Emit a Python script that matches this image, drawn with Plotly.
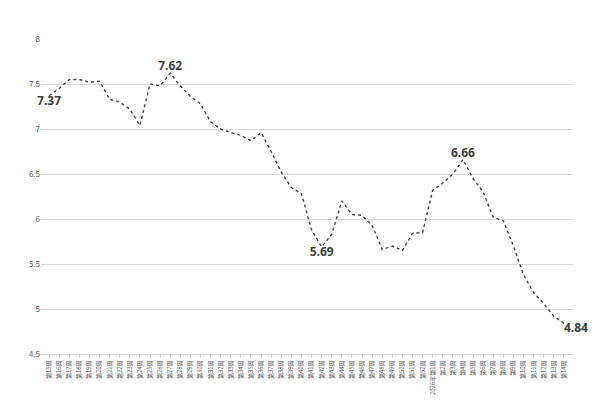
import plotly.graph_objects as go

weeks = [f"第{i}周" for i in range(15, 53)] + ["2026年第1周"] + [f"第{i}周" for i in range(2, 15)]
prices = [7.37, 7.45, 7.55, 7.55, 7.52, 7.53, 7.33, 7.30, 7.22, 7.04,
          7.50, 7.48, 7.62, 7.48, 7.36, 7.28, 7.08, 7.00, 6.96, 6.93,
          6.87, 6.96, 6.75, 6.52, 6.35, 6.28, 5.88, 5.69, 5.83, 6.20,
          6.05, 6.04, 5.93, 5.66, 5.70, 5.65, 5.84, 5.85, 6.32, 6.40,
          6.50, 6.66, 6.45, 6.30, 6.02, 5.98, 5.70, 5.38, 5.18, 5.06,
          4.92, 4.84]
labeled = {0: "bottom center", 12: "top center", 27: "bottom center", 41: "top center", 51: "bottom right"}

texts = [f"<b>{v:.2f}</b>" if i in labeled else "" for i, v in enumerate(prices)]
positions = [labeled.get(i, "top center") for i in range(len(prices))]

fig = go.Figure(go.Scatter(
    x=weeks, y=prices, mode="lines+text",
    line=dict(color="#444444", width=1.4, dash="dot"),
    text=texts, textposition=positions,
    textfont=dict(family="Open Sans", size=12, color="#404040"),
    cliponaxis=False,
))
fig.update_layout(
    width=600, height=400, plot_bgcolor="white", paper_bgcolor="white",
    margin=dict(l=33, r=35, t=31, b=54), showlegend=False,
    font=dict(family="Noto Sans CJK SC"),
)
fig.update_yaxes(range=[4.5, 8], dtick=0.5, gridcolor="#d9d9d9", zeroline=False,
                 tickfont=dict(size=8, color="#595959"), tickformat="~g", showline=False,
                 automargin=False)
fig.update_xaxes(tickangle=-90, tickfont=dict(size=6, color="#595959"),
                 range=[-0.8, 51.9], automargin=False,
                 showgrid=False, showline=True, linecolor="#d9d9d9",
                 ticks="outside", ticklen=3, tickcolor="#d9d9d9")
fig.write_html("out.html")
